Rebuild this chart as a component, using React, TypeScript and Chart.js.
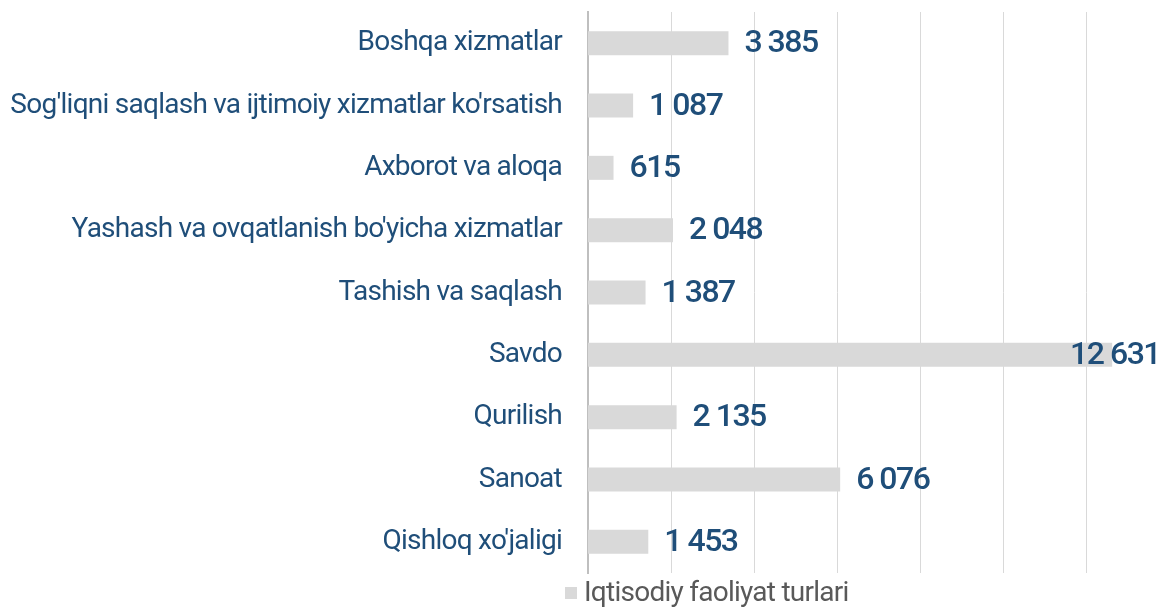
import React, { useEffect, useRef } from "react";
import { Chart, registerables } from "chart.js";

Chart.register(...registerables);

const categories = [
  "Boshqa xizmatlar",
  "Sog'liqni saqlash va ijtimoiy xizmatlar ko'rsatish",
  "Axborot va aloqa",
  "Yashash va ovqatlanish bo'yicha xizmatlar",
  "Tashish va saqlash",
  "Savdo",
  "Qurilish",
  "Sanoat",
  "Qishloq xo'jaligi",
];
const values = [3385, 1087, 615, 2048, 1387, 12631, 2135, 6076, 1453];
const seriesName = "Iqtisodiy faoliyat turlari";
const xStep = 2000;
const xMax = 13831;

const BLUE = "#1F4E79";
const BAR = "#D9D9D9";
const GRID = "#D9D9D9";

const fmt = (v: number) => String(v).replace(/\B(?=(\d{3})+(?!\d))/g, " ");

const spacingPlugin = {
  id: "tightText",
  beforeDraw(chart: any) {
    (chart.ctx as any).letterSpacing = "-0.75px";
  },
  afterDraw(chart: any) {
    (chart.ctx as any).letterSpacing = "0px";
  },
};

const gridPlugin = {
  id: "vGrid",
  beforeDatasetsDraw(chart: any) {
    const ctx = chart.ctx;
    const area = chart.chartArea;
    const xs = chart.scales.x;
    ctx.save();
    ctx.strokeStyle = GRID;
    ctx.lineWidth = 1;
    for (let v = xStep; v <= xs.max; v += xStep) {
      const px = Math.round(xs.getPixelForValue(v)) + 0.5;
      ctx.beginPath();
      ctx.moveTo(px, area.top);
      ctx.lineTo(px, area.bottom);
      ctx.stroke();
    }
    ctx.restore();
  },
};

const labelPlugin = {
  id: "valueLabels",
  afterDatasetsDraw(chart: any) {
    const ctx = chart.ctx;
    const area = chart.chartArea;
    const meta = chart.getDatasetMeta(0);
    ctx.save();
    (ctx as any).letterSpacing = "-1.5px";
    ctx.font = "500 32px Roboto";
    ctx.fillStyle = BLUE;
    ctx.textBaseline = "middle";
    ctx.textAlign = "left";
    meta.data.forEach((bar: any, i: number) => {
      const t = fmt(values[i]);
      const w = ctx.measureText(t).width;
      const x = Math.min(bar.x + 16, area.right - w - 2);
      ctx.fillText(t, x, bar.y + 1);
    });
    ctx.restore();
  },
};

const legendPlugin = {
  id: "customLegend",
  afterDraw(chart: any) {
    const ctx = chart.ctx;
    const area = chart.chartArea;
    const x = area.left - 23;
    const y = area.bottom + 20;
    ctx.save();
    ctx.fillStyle = BAR;
    ctx.fillRect(x, y - 6, 12, 12);
    (ctx as any).letterSpacing = "-0.75px";
    ctx.font = "28px Roboto";
    ctx.fillStyle = "#595959";
    ctx.textBaseline = "middle";
    ctx.textAlign = "left";
    ctx.fillText(seriesName, x + 19, y + 1);
    ctx.restore();
  },
};

export default function App() {
  const ref = useRef<HTMLCanvasElement | null>(null);
  useEffect(() => {
    if (!ref.current) return;
    const chart = new Chart(ref.current, {
      type: "bar",
      data: {
        labels: categories,
        datasets: [
          {
            label: seriesName,
            data: values,
            backgroundColor: BAR,
            borderWidth: 0,
            barPercentage: 0.385,
            categoryPercentage: 1,
          },
        ],
      },
      options: {
        indexAxis: "y",
        animation: false,
        responsive: true,
        maintainAspectRatio: false,
        layout: { padding: { top: 12, bottom: 35, left: 0, right: 0 } },
        plugins: {
          legend: { display: false },
          tooltip: { enabled: false },
        },
        scales: {
          x: {
            min: 0,
            max: xMax,
            ticks: { display: false, stepSize: xStep },
            afterFit: (scale: any) => {
              scale.height = 0;
              scale.paddingLeft = 0;
              scale.paddingRight = 0;
            },
            grid: { display: false, drawTicks: false },
            border: { display: false },
          },
          y: {
            afterFit: (scale: any) => {
              scale.width = 588;
              scale.paddingTop = 0;
              scale.paddingBottom = 0;
            },
            ticks: {
              color: BLUE,
              font: { family: "Roboto", size: 28 },
              padding: 26,
            },
            grid: { display: false, drawTicks: false },
            border: { display: true, color: "#BFBFBF", width: 2 },
          },
        },
      },
      plugins: [spacingPlugin, gridPlugin, labelPlugin, legendPlugin],
    });
    return () => chart.destroy();
  }, []);
  return (
    <div style={{ position: "fixed", left: 0, top: 0, width: 1162, height: 608, background: "#fff" }}>
      <canvas ref={ref} />
    </div>
  );
}
